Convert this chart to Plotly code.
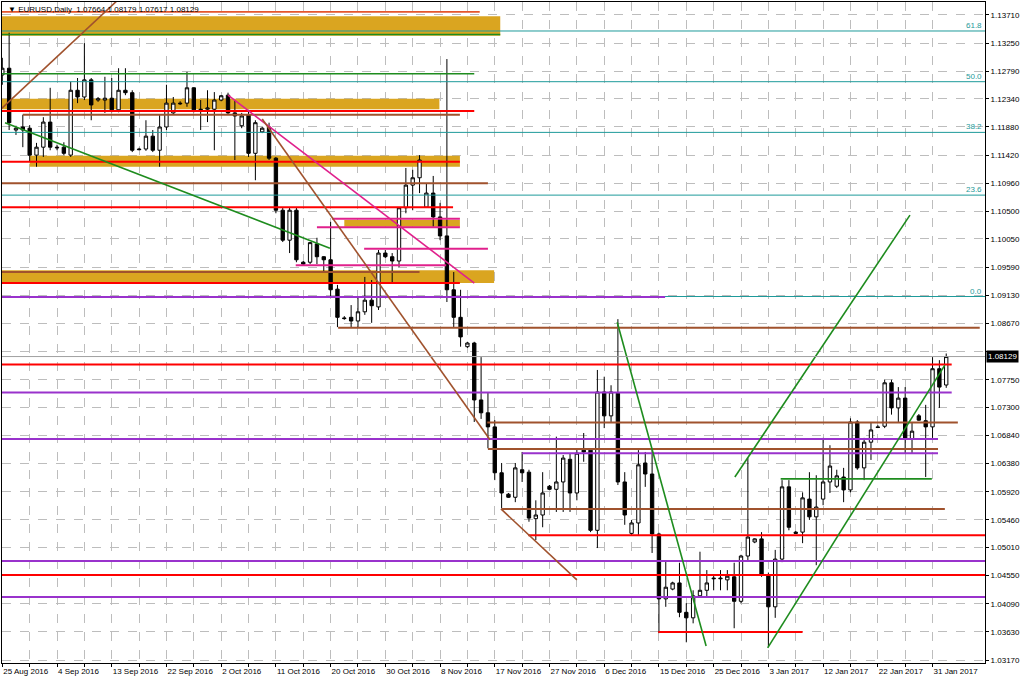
import pandas as pd
import plotly.graph_objects as go

# ---------------- data ----------------
dates = [d.strftime('%Y-%m-%d') for d in pd.date_range('2016-08-25', '2017-02-02') if d.weekday() != 5]

open_ = [1.1273, 1.1284, 1.1183, 1.1188, 1.1186, 1.1142, 1.1155, 1.1196, 1.1155, 1.1155,
         1.1142, 1.1248, 1.1237, 1.1265, 1.1232, 1.1232, 1.1235, 1.1216, 1.1248, 1.1244,
         1.1152, 1.1152, 1.1173, 1.1150, 1.1188, 1.1211, 1.1227, 1.1227, 1.1252, 1.1217,
         1.1217, 1.1217, 1.1232, 1.1240, 1.1211, 1.1190, 1.1208, 1.1145, 1.1180, 1.1188,
         1.1137, 1.1052, 1.1003, 1.1052, 1.0967, 1.0967, 1.0997, 1.0976, 1.0971, 1.0923,
         1.0876, 1.0877, 1.0871, 1.0886, 1.0905, 1.0894, 1.0982, 1.0976, 1.0969, 1.1056,
         1.1093, 1.1105, 1.1057, 1.1080, 1.1041, 1.1010, 1.0922, 1.0877, 1.0829, 1.0835,
         1.0742, 1.0721, 1.0698, 1.0623, 1.0588, 1.0583, 1.0628, 1.0624, 1.0548, 1.0554,
         1.0601, 1.0596, 1.0608, 1.0645, 1.0590, 1.0660, 1.0660, 1.0529, 1.0755, 1.0716,
         1.0753, 1.0608, 1.0524, 1.0541, 1.0639, 1.0621, 1.0523, 1.0417, 1.0433, 1.0443,
         1.0395, 1.0386, 1.0422, 1.0431, 1.0451, 1.0451, 1.0448, 1.0453, 1.0413, 1.0487,
         1.0510, 1.0515, 1.0456, 1.0404, 1.0482, 1.0600, 1.0526, 1.0526, 1.0580, 1.0551,
         1.0580, 1.0608, 1.0601, 1.0616, 1.0595, 1.0706, 1.0631, 1.0673, 1.0698, 1.0699,
         1.0770, 1.0729, 1.0745, 1.0678, 1.0716, 1.0708, 1.0698, 1.0793, 1.07664]
high = [1.1301, 1.1342, 1.1190, 1.1208, 1.1191, 1.1162, 1.1204, 1.1252, 1.1159, 1.1163,
        1.1262, 1.1268, 1.1325, 1.1268, 1.1237, 1.1270, 1.1268, 1.1284, 1.1284, 1.1248,
        1.1154, 1.1199, 1.1183, 1.1208, 1.1257, 1.1237, 1.1230, 1.1278, 1.1253, 1.1232,
        1.1248, 1.1245, 1.1240, 1.1244, 1.1232, 1.1211, 1.1216, 1.1199, 1.1188, 1.1195,
        1.1139, 1.1057, 1.1057, 1.1056, 1.0969, 1.1000, 1.1007, 1.0977, 1.1033, 1.0930,
        1.0879, 1.0897, 1.0910, 1.0943, 1.0938, 1.0987, 1.0987, 1.0982, 1.1057, 1.1121,
        1.1118, 1.1142, 1.1096, 1.1108, 1.1064, 1.1299, 1.0951, 1.0922, 1.0837, 1.0837,
        1.0812, 1.0755, 1.0709, 1.0639, 1.0590, 1.0639, 1.0657, 1.0628, 1.0578, 1.0624,
        1.0603, 1.0682, 1.0652, 1.0655, 1.0663, 1.0688, 1.0663, 1.0791, 1.0780, 1.0766,
        1.0874, 1.0624, 1.0546, 1.0660, 1.0657, 1.0663, 1.0525, 1.0480, 1.0445, 1.0476,
        1.0410, 1.0431, 1.0494, 1.0464, 1.0456, 1.0464, 1.0464, 1.0476, 1.0489, 1.0647,
        1.0516, 1.0526, 1.0460, 1.0497, 1.0611, 1.0611, 1.0528, 1.0591, 1.0624, 1.0619,
        1.0680, 1.0668, 1.0628, 1.0631, 1.0712, 1.0709, 1.0680, 1.0706, 1.0701, 1.0775,
        1.0775, 1.0763, 1.0763, 1.0706, 1.0719, 1.0734, 1.0812, 1.0807, 1.08179]
low = [1.1257, 1.1183, 1.1175, 1.1155, 1.1131, 1.1123, 1.1139, 1.1150, 1.1150, 1.1142,
       1.1139, 1.1227, 1.1232, 1.1199, 1.1229, 1.1211, 1.1212, 1.1212, 1.1240, 1.1147,
       1.1150, 1.1149, 1.1147, 1.1123, 1.1183, 1.1208, 1.1224, 1.1221, 1.1212, 1.1183,
       1.1196, 1.1150, 1.1230, 1.1208, 1.1134, 1.1186, 1.1139, 1.1101, 1.1178, 1.1134,
       1.1047, 1.1000, 1.0982, 1.0967, 1.0962, 1.0964, 1.0964, 1.0951, 1.0910, 1.0861,
       1.0873, 1.0860, 1.0860, 1.0881, 1.0868, 1.0889, 1.0974, 1.0933, 1.0959, 1.1047,
       1.1052, 1.1080, 1.1056, 1.1025, 1.1003, 1.0902, 1.0861, 1.0829, 1.0827, 1.0706,
       1.0711, 1.0663, 1.0611, 1.0565, 1.0582, 1.0575, 1.0608, 1.0543, 1.0513, 1.0534,
       1.0595, 1.0559, 1.0559, 1.0559, 1.0578, 1.0641, 1.0526, 1.0500, 1.0696, 1.0706,
       1.0603, 1.0538, 1.0521, 1.0521, 1.0600, 1.0492, 1.0361, 1.0404, 1.0431, 1.0387,
       1.0346, 1.0377, 1.0420, 1.0420, 1.0431, 1.0431, 1.0431, 1.0369, 1.0410, 1.0480,
       1.0508, 1.0453, 1.0338, 1.0386, 1.0477, 1.0529, 1.0523, 1.0508, 1.0546, 1.0472,
       1.0570, 1.0590, 1.0598, 1.0575, 1.0591, 1.0628, 1.0611, 1.0644, 1.0696, 1.0696,
       1.0718, 1.0706, 1.0655, 1.0655, 1.0708, 1.0616, 1.0680, 1.0729, 1.07617]
close = [1.1284, 1.1195, 1.1186, 1.1183, 1.1142, 1.1155, 1.1196, 1.1155, 1.1154, 1.1145,
         1.1248, 1.1237, 1.1265, 1.1224, 1.1234, 1.1235, 1.1216, 1.1248, 1.1244, 1.1150,
         1.1151, 1.1173, 1.1150, 1.1188, 1.1227, 1.1227, 1.1226, 1.1252, 1.1216, 1.1216,
         1.1219, 1.1232, 1.1239, 1.1211, 1.1206, 1.1206, 1.1145, 1.1195, 1.1186, 1.1137,
         1.1052, 1.1003, 1.1052, 1.0971, 1.0964, 1.0999, 1.0976, 1.0971, 1.0922, 1.0877,
         1.0875, 1.0871, 1.0886, 1.0905, 1.0896, 1.0982, 1.0976, 1.0969, 1.1056, 1.1093,
         1.1105, 1.1134, 1.1080, 1.1041, 1.1010, 1.0922, 1.0877, 1.0845, 1.0835, 1.0742,
         1.0721, 1.0698, 1.0623, 1.0590, 1.0583, 1.0631, 1.0623, 1.0549, 1.0554, 1.0590,
         1.0596, 1.0608, 1.0647, 1.0590, 1.0655, 1.0657, 1.0529, 1.0755, 1.0716, 1.0755,
         1.0608, 1.0554, 1.0541, 1.0636, 1.0621, 1.0523, 1.0417, 1.0436, 1.0443, 1.0395,
         1.0386, 1.0422, 1.0431, 1.0443, 1.0450, 1.0450, 1.0454, 1.0413, 1.0487, 1.0518,
         1.0515, 1.0456, 1.0404, 1.0482, 1.0600, 1.0534, 1.0524, 1.0582, 1.0551, 1.0567,
         1.0608, 1.0634, 1.0618, 1.0595, 1.0706, 1.0631, 1.0673, 1.0693, 1.0697, 1.0770,
         1.0729, 1.0745, 1.0678, 1.0691, 1.0709, 1.0698, 1.0793, 1.0763, 1.08129]

x_labels = ['25 Aug 2016', '4 Sep 2016', '13 Sep 2016', '22 Sep 2016', '2 Oct 2016', '11 Oct 2016',
            '20 Oct 2016', '30 Oct 2016', '8 Nov 2016', '17 Nov 2016', '27 Nov 2016', '6 Dec 2016',
            '15 Dec 2016', '25 Dec 2016', '3 Jan 2017', '12 Jan 2017', '22 Jan 2017', '31 Jan 2017']
y_ticks = [1.03170, 1.03630, 1.04090, 1.04550, 1.05010, 1.05460, 1.05920, 1.06380, 1.06840, 1.07300,
           1.07750, 1.08210, 1.08670, 1.09130, 1.09590, 1.10050, 1.10500, 1.10960, 1.11420, 1.11880,
           1.12340, 1.12790, 1.13250, 1.13710]

# horizontal levels (price, from bar, to bar, kind)
level_price = [1.1376, 1.1339, 1.1275, 1.1214, 1.1208, 1.1131, 1.1096, 1.1057, 1.1038, 1.1024,
               1.0989, 1.0962, 1.0951, 1.0933, 1.0910, 1.0860, 1.0800, 1.0754, 1.0705, 1.0678,
               1.0662, 1.0655, 1.0613, 1.0564, 1.0521, 1.0479, 1.0456, 1.0420, 1.0363]
level_from = [-1, -1, -1, -1, 3, -1, -1, -1, 48.2, 46,
              52.9, 42.9, -1, -1, -1, 49.1, -1, -1, 70.9, -1,
              71, 76, 113.8, 73, 76.9, -1, -1, -1, 95.9]
level_to = [69.8, 72.8, 69, 69, 66.9, 66.9, 71, 65.9, 66.9, 66.9,
            71, 64.9, 61, 66.9, 96.9, 142.9, 138.8, 138.8, 139.7, 136.8,
            136.8, 136.8, 135.9, 137.8, 150, 150, 150, 150, 117]
level_kind = ['orange', 'green', 'green', 'red', 'brown', 'red', 'brown', 'red', 'magenta', 'magenta',
              'magenta', 'magenta', 'brown', 'red', 'purple', 'brown', 'red', 'purple', 'brown', 'purple',
              'brown', 'purple', 'green', 'brown', 'red', 'purple', 'red', 'purple', 'red']

# filled zones
band_top = [1.1369, 1.1234, 1.1141, 1.1036, 1.0954]
band_bottom = [1.1337, 1.1217, 1.1123, 1.1025, 1.0933]
band_from = [-1, -1, 4, 50, -1]
band_to = [72.8, 63.9, 66.9, 66.9, 71.9]

# trend lines
trend_x0 = [-0.3, 0.4, 33.0, 38.0, 72.9, 89.9, 107.1, 111.9]
trend_p0 = [1.1216, 1.1195, 1.1240, 1.1201, 1.0564, 1.0869, 1.0616, 1.0337]
trend_x1 = [17.9, 47.9, 69.0, 71.3, 84.0, 102.9, 132.7, 137.8]
trend_p1 = [1.1406, 1.0990, 1.0933, 1.0677, 1.0448, 1.0340, 1.1044, 1.0799]
trend_kind = ['brown', 'green', 'magenta', 'brown', 'brown', 'green', 'green', 'green']

# fibonacci retracement
fib_low = 1.0911
fib_high = 1.1613
fib_levels = [0.0, 23.6, 38.2, 50.0, 61.8]

# ---------------- styles ----------------
COL = {'red': '#FF0000', 'brown': '#A0522D', 'purple': '#9932CC', 'magenta': '#E0208C',
       'green': '#1E8C1E', 'orange': '#E4562C'}
WID = {'red': 2, 'brown': 2, 'purple': 2, 'magenta': 2, 'green': 1.6, 'orange': 1.6}
TEAL = '#1E9A9A'
FONT = 'Liberation Sans'

fig = go.Figure()
fig.add_trace(go.Candlestick(
    x=dates, open=open_, high=high, low=low, close=close,
    increasing=dict(line=dict(color='black', width=1), fillcolor='white'),
    decreasing=dict(line=dict(color='black', width=1), fillcolor='black'),
    whiskerwidth=0, showlegend=False, hoverinfo='skip'))

for t, b, f, e in zip(band_top, band_bottom, band_from, band_to):
    fig.add_shape(type='rect', x0=f, x1=e, y0=b, y1=t, xref='x', yref='y',
                  fillcolor='#DAA520', line=dict(width=0), layer='between')

for lv in fib_levels:
    p = fib_low + lv / 100.0 * (fib_high - fib_low)
    fig.add_shape(type='line', x0=-1, x1=150, y0=p, y1=p, xref='x', yref='y',
                  line=dict(color=TEAL, width=1), layer='above')
    fig.add_annotation(x=1, xref='paper', y=p, yref='y', text='%.1f' % lv, showarrow=False,
                       xanchor='right', yanchor='bottom', xshift=-1, yshift=-1,
                       font=dict(family=FONT, size=8, color=TEAL))

for p, f, e, k in zip(level_price, level_from, level_to, level_kind):
    fig.add_shape(type='line', x0=f, x1=e, y0=p, y1=p, xref='x', yref='y',
                  line=dict(color=COL[k], width=WID[k]), layer='above')

for x0, p0, x1, p1, k in zip(trend_x0, trend_p0, trend_x1, trend_p1, trend_kind):
    fig.add_shape(type='line', x0=x0, x1=x1, y0=p0, y1=p1, xref='x', yref='y',
                  line=dict(color=COL[k], width=1.6), layer='above')

# bid line
fig.add_shape(type='line', x0=-1, x1=150, y0=close[-1], y1=close[-1], xref='x', yref='y',
              line=dict(color='#A0A0A0', width=1), layer='above')

fig.add_annotation(x=1, xref='paper', y=close[-1], yref='y', text='%.5f' % close[-1],
                   showarrow=False, xanchor='left', yanchor='middle', xshift=1,
                   bgcolor='black', borderpad=1, font=dict(family=FONT, size=8, color='white'))

title = '\u25bc EURUSD,Daily  %.5f %.5f %.5f %.5f' % (open_[-1], high[-1], low[-1], close[-1])
fig.add_annotation(x=0, xref='paper', y=1, yref='paper', text=title, showarrow=False,
                   xanchor='left', yanchor='top', xshift=4, yshift=-1,
                   font=dict(family=FONT, size=8, color='black'))

tickvals_x = dates[0::4]
ticktext_x = [x_labels[i // 2] if i % 2 == 0 else '' for i in range(len(tickvals_x))]
# the label nearest the bid price sits under the price box, as in the terminal
ticktext_y = ['' if abs(v - close[-1]) < 0.001 else '%.5f' % v for v in y_ticks]

fig.update_layout(
    width=1024, height=683,
    margin=dict(l=2, r=39, t=2, b=20, autoexpand=False),
    paper_bgcolor='white', plot_bgcolor='white',
    font=dict(family=FONT, size=8, color='black'),
    showlegend=False,
    xaxis=dict(type='category', range=[-0.044, 143.67], rangeslider=dict(visible=False),
               tickvals=tickvals_x, ticktext=ticktext_x, ticklabelposition='outside right',
               tickangle=0, automargin=False,
               showgrid=True, gridcolor='#BDBDBD', griddash='dash', gridwidth=1,
               ticks='outside', ticklen=3, tickcolor='black',
               showline=True, linecolor='black', linewidth=1, mirror=True,
               tickfont=dict(family=FONT, size=8, color='black'), zeroline=False),
    yaxis=dict(side='right', range=[1.03122, 1.13922], automargin=False,
               tickvals=y_ticks, ticktext=ticktext_y,
               showgrid=True, gridcolor='#BDBDBD', griddash='dash', gridwidth=1,
               ticks='outside', ticklen=3, tickcolor='black',
               showline=True, linecolor='black', linewidth=1, mirror=True,
               tickfont=dict(family=FONT, size=8, color='black'), zeroline=False),
)

fig.write_html('out.html', config={'displayModeBar': False, 'staticPlot': True},
               post_script="document.body.style.margin='0';document.body.style.overflow='hidden';")
